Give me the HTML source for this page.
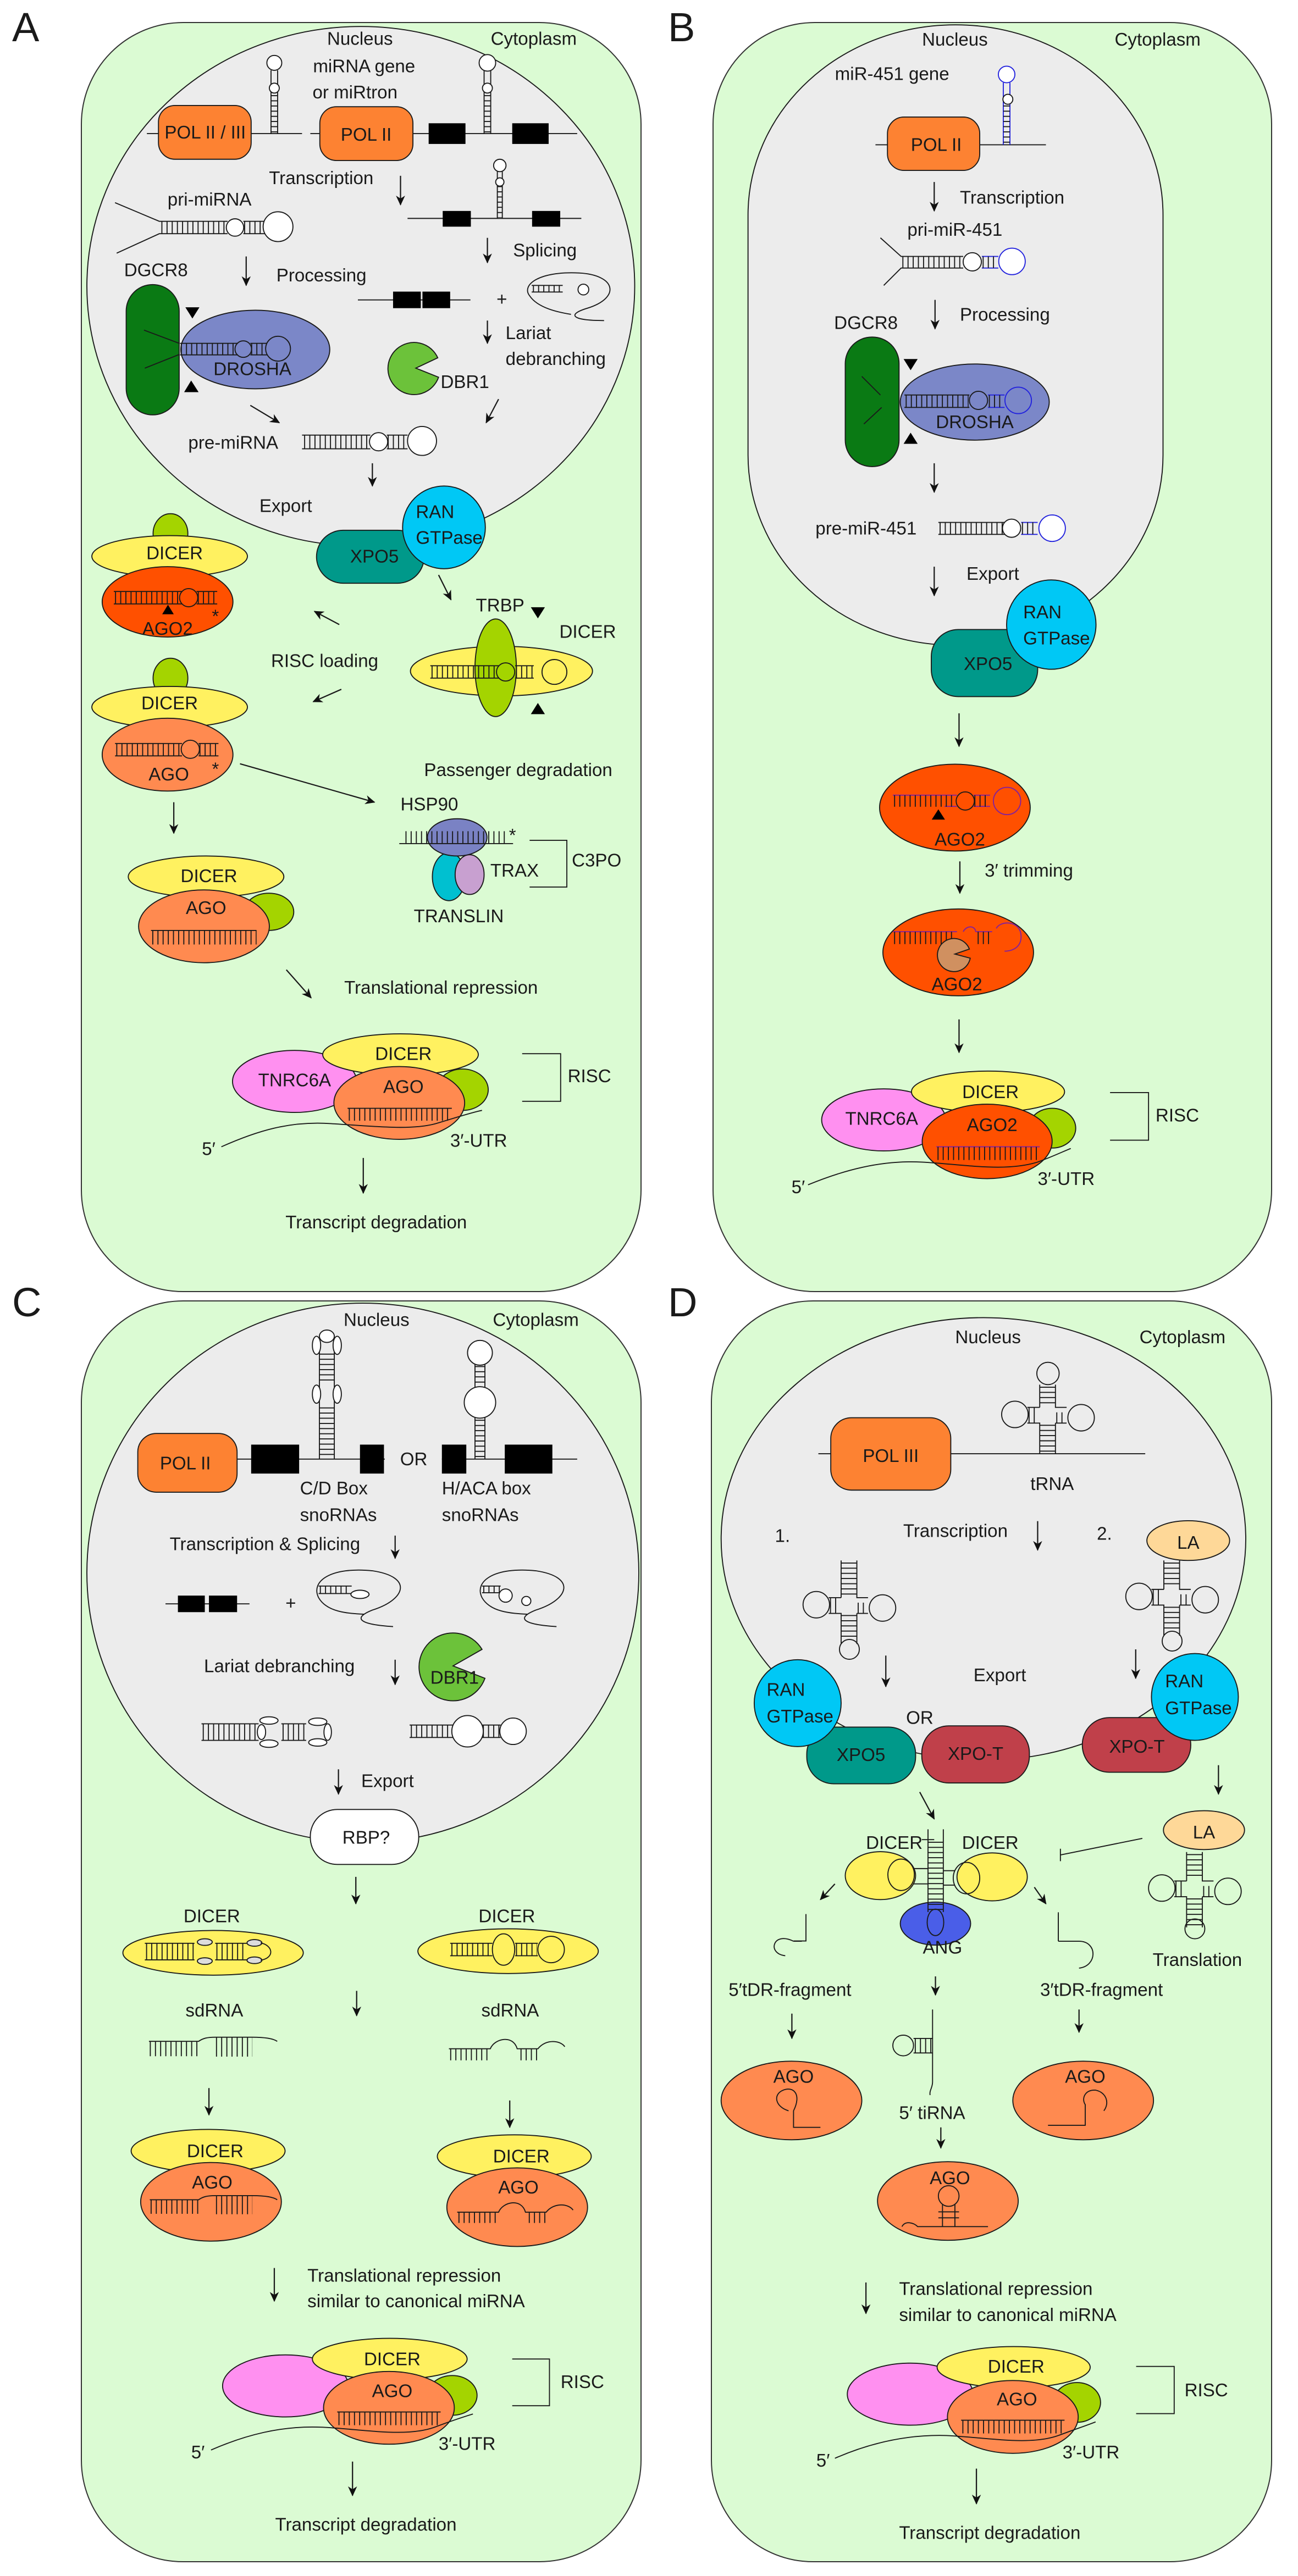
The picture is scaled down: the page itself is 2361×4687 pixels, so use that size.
<!DOCTYPE html>
<html><head><meta charset="utf-8">
<style>
html,body{margin:0;padding:0;background:#fff;}
svg{display:block;}
text{font-family:"Liberation Sans",sans-serif;fill:#1a1a1a;font-size:44px;}
.o{stroke:#1a1a1a;stroke-width:2.5;}
.l{stroke:#1a1a1a;stroke-width:2.5;fill:none;}
.a{stroke:#1a1a1a;stroke-width:3;fill:none;marker-end:url(#ah);}
.r{stroke:#1a1a1a;stroke-dasharray:2.5 10;fill:none;}
.c{fill:none;stroke:#1a1a1a;stroke-width:2.5;}
.cw{fill:#fff;stroke:#1a1a1a;stroke-width:2.5;}
.m{text-anchor:middle;}
.big{font-size:74px;}
</style></head><body>
<svg width="2361" height="4687" viewBox="0 0 2361 4687" xmlns="http://www.w3.org/2000/svg">
<defs>
<marker id="ah" markerWidth="24" markerHeight="22" refX="22" refY="11" orient="auto" markerUnits="userSpaceOnUse"><path d="M0,0 L24,11 L0,22 L7,11z" fill="#111"/></marker>
</defs>
<rect width="2361" height="4687" fill="#fff"/>
<rect x="148" y="41" width="1018" height="2309" rx="185" fill="#dbfbd3" stroke="#333" stroke-width="2"/>
<rect x="1297" y="41" width="1016" height="2309" rx="185" fill="#dbfbd3" stroke="#333" stroke-width="2"/>
<rect x="148" y="2367" width="1018" height="2294" rx="185" fill="#dbfbd3" stroke="#333" stroke-width="2"/>
<rect x="1294" y="2367" width="1019" height="2294" rx="185" fill="#dbfbd3" stroke="#333" stroke-width="2"/>
<text x="22" y="75" class="big">A</text>
<text x="1215" y="75" class="big">B</text>
<text x="22" y="2395" class="big">C</text>
<text x="1215" y="2395" class="big">D</text>

<g transform="translate(0,0) scale(0.7526)">
<ellipse cx="872" cy="692" rx="662" ry="628" fill="#ececec" class="o"/>
<text x="870" y="108" class="m">Nucleus</text>
<text x="1290" y="108" class="m">Cytoplasm</text>
<text x="880" y="175" class="m">miRNA gene</text>
<text x="858" y="238" class="m">or miRtron</text>
<line x1="355" y1="323" x2="730" y2="323" class="l"/>
<rect x="383" y="255" width="224" height="130" rx="40" fill="#fd8232" class="o"/>
<text x="496" y="335" class="m">POL II / III</text>
<path d="M655 323V170M671 323V170" class="l"/><line x1="663" y1="230" x2="663" y2="320" class="r" stroke-width="16"/>
<circle cx="663" cy="152" r="18" class="cw"/><circle cx="663" cy="213" r="12" class="cw"/>
<line x1="750" y1="323" x2="1395" y2="323" class="l"/>
<rect x="773" y="258" width="225" height="130" rx="40" fill="#fd8232" class="o"/>
<text x="885" y="340" class="m">POL II</text>
<rect x="1036" y="298" width="89" height="50" fill="#000"/><rect x="1238" y="298" width="88" height="50" fill="#000"/>
<path d="M1170 323V170M1186 323V170" class="l"/><line x1="1178" y1="230" x2="1178" y2="320" class="r" stroke-width="16"/>
<circle cx="1178" cy="152" r="20" class="cw"/><circle cx="1178" cy="213" r="12" class="cw"/>
<text x="650" y="445">Transcription</text>
<line x1="968" y1="425" x2="968" y2="495" class="a"/>
<line x1="985" y1="528" x2="1405" y2="528" class="l"/>
<rect x="1070" y="510" width="68" height="38" fill="#000"/><rect x="1286" y="510" width="68" height="38" fill="#000"/>
<path d="M1202 528V415M1214 528V415" class="l"/><line x1="1208" y1="450" x2="1208" y2="526" class="r" stroke-width="12"/>
<circle cx="1208" cy="400" r="15" class="cw"/><circle cx="1208" cy="440" r="10" class="cw"/>
<text x="405" y="497">pri-miRNA</text>
<path d="M278 490L385 535H550M282 612L385 565H550M588 535H640M588 565H640" class="l"/>
<line x1="390" y1="550" x2="548" y2="550" class="r" stroke-width="30"/><line x1="590" y1="550" x2="638" y2="550" class="r" stroke-width="30"/>
<circle cx="568" cy="550" r="21" class="cw"/><circle cx="672" cy="548" r="36" class="cw"/>
<line x1="595" y1="620" x2="595" y2="690" class="a"/>
<text x="668" y="680">Processing</text>
<line x1="1178" y1="575" x2="1178" y2="635" class="a"/>
<text x="1240" y="620">Splicing</text>
<line x1="865" y1="725" x2="1137" y2="725" class="l"/>
<rect x="950" y="705" width="67" height="40" fill="#000"/><rect x="1021" y="705" width="67" height="40" fill="#000"/>
<text x="1200" y="738">+</text>
<path d="M1460 775C1380 775 1370 760 1420 745C1500 720 1490 665 1400 660C1300 655 1260 690 1280 715C1300 745 1350 755 1380 760" class="l"/>
<path d="M1285 690H1360M1285 706H1360" class="l"/><line x1="1288" y1="698" x2="1358" y2="698" class="r" stroke-width="14"/><circle cx="1410" cy="700" r="13" class="cw"/>
<line x1="1178" y1="775" x2="1178" y2="830" class="a"/>
<text x="1222" y="820">Lariat</text>
<text x="1222" y="882">debranching</text>
<path d="M1058 865A63 63 0 1 0 1060 912L1005 890Z" fill="#6cc23a" class="o"/>
<text x="1065" y="938">DBR1</text>
<text x="300" y="668">DGCR8</text>
<rect x="305" y="688" width="128" height="315" rx="64" fill="#0a7a14" class="o"/>
<path d="M348 798L433 830M350 890L433 857" class="l"/>
<ellipse cx="617" cy="845" rx="180" ry="95" fill="#7b87c8" class="o"/>
<path d="M435 830H575M435 858H575M605 830H645M605 858H645" class="l"/>
<line x1="437" y1="844" x2="573" y2="844" class="r" stroke-width="28"/><line x1="607" y1="844" x2="643" y2="844" class="r" stroke-width="28"/>
<circle cx="588" cy="844" r="20" class="c"/><circle cx="672" cy="843" r="30" class="c"/>
<text x="610" y="907" class="m">DROSHA</text>
<path d="M448 743H482L465 770Z" fill="#000"/><path d="M445 948H480L462 920Z" fill="#000"/>
<line x1="605" y1="980" x2="675" y2="1022" class="a"/>
<line x1="1205" y1="965" x2="1175" y2="1022" class="a"/>
<text x="455" y="1085">pre-miRNA</text>
<path d="M730 1052H895M730 1085H895M935 1052H985M935 1085H985" class="l"/>
<line x1="735" y1="1068" x2="893" y2="1068" class="r" stroke-width="33"/><line x1="937" y1="1068" x2="983" y2="1068" class="r" stroke-width="33"/>
<circle cx="915" cy="1068" r="22" class="cw"/><circle cx="1020" cy="1066" r="35" class="cw"/>
<line x1="900" y1="1120" x2="900" y2="1175" class="a"/>
<text x="627" y="1238">Export</text>
<rect x="765" y="1282" width="260" height="128" rx="64" fill="#00998a" class="o"/>
<text x="905" y="1360" class="m">XPO5</text>
<circle cx="1073" cy="1275" r="100" fill="#00c8f5" class="o"/>
<text x="1005" y="1252">RAN</text><text x="1005" y="1315">GTPase</text>
<ellipse cx="412" cy="1290" rx="42" ry="48" fill="#a4d400" class="o"/>
<ellipse cx="410" cy="1345" rx="188" ry="50" fill="#fff160" class="o"/>
<text x="422" y="1352" class="m">DICER</text>
<ellipse cx="405" cy="1455" rx="158" ry="85" fill="#ff5000" class="o"/>
<path d="M275 1430H440M275 1460H440M475 1430H525M475 1460H525" class="l"/>
<line x1="278" y1="1445" x2="438" y2="1445" class="r" stroke-width="30"/><line x1="478" y1="1445" x2="523" y2="1445" class="r" stroke-width="30"/>
<circle cx="456" cy="1445" r="22" class="c"/>
<path d="M392 1485H420L406 1462Z" fill="#000"/>
<text x="405" y="1535" class="m">AGO2</text><text x="512" y="1505">*</text>
<line x1="1060" y1="1390" x2="1090" y2="1450" class="a"/>
<text x="1150" y="1478">TRBP</text>
<path d="M1283 1468H1317L1300 1495Z" fill="#000"/>
<text x="1352" y="1542">DICER</text>
<line x1="820" y1="1510" x2="760" y2="1478" class="a"/>
</g>

<g transform="translate(0,1200) scale(0.7526)">
<text x="655" y="18">RISC loading</text>
<line x1="825" y1="72" x2="757" y2="102" class="a"/>
<ellipse cx="1212" cy="28" rx="220" ry="60" fill="#fff160" class="o"/>
<ellipse cx="1198" cy="20" rx="50" ry="118" fill="#a4d400" class="o"/>
<path d="M1040 15H1205M1040 45H1205M1245 15H1290M1245 45H1290" class="l"/>
<line x1="1043" y1="30" x2="1203" y2="30" class="r" stroke-width="30"/><line x1="1247" y1="30" x2="1288" y2="30" class="r" stroke-width="30"/>
<circle cx="1222" cy="30" r="22" class="c"/><circle cx="1340" cy="30" r="30" class="c"/>
<path d="M1283 132H1317L1300 105Z" fill="#000"/>
<ellipse cx="412" cy="45" rx="42" ry="48" fill="#a4d400" class="o"/>
<ellipse cx="410" cy="115" rx="188" ry="50" fill="#fff160" class="o"/>
<text x="410" y="120" class="m">DICER</text>
<ellipse cx="405" cy="230" rx="158" ry="88" fill="#ff8a50" class="o"/>
<path d="M278 203H440M278 233H440M480 203H528M480 233H528" class="l"/>
<line x1="281" y1="218" x2="438" y2="218" class="r" stroke-width="30"/><line x1="482" y1="218" x2="526" y2="218" class="r" stroke-width="30"/>
<circle cx="460" cy="217" r="22" class="c"/>
<text x="408" y="292" class="m">AGO</text><text x="512" y="280">*</text>
<line x1="580" y1="252" x2="905" y2="345" class="a"/>
<text x="1025" y="282">Passenger degradation</text>
<line x1="420" y1="345" x2="420" y2="420" class="a"/>
<text x="968" y="365">HSP90</text>
<ellipse cx="1085" cy="525" rx="40" ry="58" fill="#00c0d0" class="o"/>
<ellipse cx="1135" cy="520" rx="35" ry="48" fill="#c8a0d0" class="o"/>
<ellipse cx="1105" cy="430" rx="72" ry="45" fill="#7a82c4" class="o"/>
<line x1="965" y1="445" x2="1240" y2="445" class="l"/>
<line x1="980" y1="430" x2="1222" y2="430" class="r" stroke-width="30" stroke-dasharray="2.5 22"/>
<text x="1230" y="440">*</text>
<text x="1185" y="525">TRAX</text>
<path d="M1280 437H1370V550H1280" class="l"/>
<text x="1382" y="500">C3PO</text>
<text x="1000" y="635">TRANSLIN</text>
<ellipse cx="650" cy="610" rx="60" ry="45" fill="#a4d400" class="o"/>
<ellipse cx="498" cy="525" rx="188" ry="50" fill="#fff160" class="o"/>
<ellipse cx="493" cy="645" rx="158" ry="88" fill="#ff8a50" class="o"/>
<text x="505" y="538" class="m">DICER</text><text x="498" y="615" class="m">AGO</text>
<line x1="365" y1="655" x2="620" y2="655" class="l"/><line x1="368" y1="672" x2="620" y2="672" class="r" stroke-width="34" stroke-dasharray="2.5 21"/>
<line x1="692" y1="750" x2="752" y2="818" class="a"/>
<text x="832" y="808">Translational repression</text>
<ellipse cx="712" cy="1020" rx="150" ry="75" fill="#ff90f0" class="o"/>
<ellipse cx="968" cy="955" rx="188" ry="50" fill="#fff160" class="o"/>
<ellipse cx="1118" cy="1040" rx="62" ry="50" fill="#a4d400" class="o"/>
<ellipse cx="965" cy="1072" rx="158" ry="88" fill="#ff8a50" class="o"/>
<text x="975" y="968" class="m">DICER</text><text x="712" y="1032" class="m">TNRC6A</text><text x="975" y="1048" class="m">AGO</text>
<line x1="840" y1="1085" x2="1092" y2="1085" class="l"/><line x1="843" y1="1100" x2="1092" y2="1100" class="r" stroke-width="30" stroke-dasharray="2.5 20"/>
<path d="M535 1178C620 1140 700 1115 800 1122C900 1128 1000 1140 1060 1120C1110 1105 1140 1095 1165 1090" class="l"/>
<text x="488" y="1198">5′</text><text x="1088" y="1178">3′-UTR</text>
<path d="M1262 953H1355V1068H1262" class="l"/><text x="1372" y="1022">RISC</text>
<line x1="878" y1="1205" x2="878" y2="1290" class="a"/>
<text x="690" y="1375">Transcript degradation</text>
</g>

<g transform="translate(1180,0) scale(0.7526)">
<rect x="240" y="60" width="1003" height="1500" rx="501" ry="460" fill="#ececec" class="o"/>
<text x="740" y="110" class="m">Nucleus</text><text x="1230" y="110" class="m">Cytoplasm</text>
<text x="450" y="193">miR-451 gene</text>
<line x1="548" y1="350" x2="960" y2="350" class="l"/>
<rect x="577" y="283" width="223" height="129" rx="40" fill="#fd8232" class="o"/>
<text x="695" y="365" class="m">POL II</text>
<path d="M857 350V200M873 350V200" stroke="#2222dd" stroke-width="2.5" fill="none"/><line x1="865" y1="255" x2="865" y2="348" class="r" stroke-width="16"/>
<circle cx="865" cy="180" r="20" fill="#fff" stroke="#2222dd" stroke-width="2.5"/><circle cx="868" cy="240" r="12" class="cw"/>
<line x1="690" y1="440" x2="690" y2="510" class="a"/>
<text x="752" y="492">Transcription</text>
<text x="625" y="570">pri-miR-451</text>
<path d="M560 575L610 620H760M568 690L610 648H760" class="l"/>
<path d="M805 620H845M805 648H845" stroke="#2222dd" stroke-width="2.5"/>
<line x1="613" y1="634" x2="758" y2="634" class="r" stroke-width="28"/><line x1="807" y1="634" x2="843" y2="634" class="r" stroke-width="28"/>
<circle cx="782" cy="633" r="22" class="cw"/><circle cx="878" cy="632" r="32" fill="#fff" stroke="#2222dd" stroke-width="2.5"/>
<line x1="692" y1="725" x2="692" y2="795" class="a"/>
<text x="752" y="775">Processing</text>
<text x="448" y="795">DGCR8</text>
<rect x="475" y="815" width="130" height="313" rx="64" fill="#0a7a14" class="o"/>
<path d="M515 910L560 955M520 1025L563 985" class="l"/>
<ellipse cx="788" cy="972" rx="180" ry="92" fill="#7b87c8" class="o"/>
<path d="M618 955H775M618 985H775" class="l"/><path d="M820 955H860M820 985H860" stroke="#2222dd" stroke-width="2.5"/>
<line x1="621" y1="970" x2="773" y2="970" class="r" stroke-width="30"/><line x1="822" y1="970" x2="858" y2="970" class="r" stroke-width="30"/>
<circle cx="797" cy="968" r="22" class="c"/><circle cx="893" cy="968" r="32" fill="none" stroke="#2222dd" stroke-width="2.5"/>
<text x="788" y="1035" class="m">DROSHA</text>
<path d="M616 868H650L633 895Z" fill="#000"/><path d="M616 1073H650L633 1046Z" fill="#000"/>
<line x1="690" y1="1120" x2="690" y2="1190" class="a"/>
<text x="403" y="1292">pre-miR-451</text>
<path d="M700 1263H860M700 1292H860" class="l"/><path d="M900 1263H940M900 1292H940" stroke="#2222dd" stroke-width="2.5"/>
<line x1="703" y1="1277" x2="858" y2="1277" class="r" stroke-width="29"/><line x1="902" y1="1277" x2="938" y2="1277" class="r" stroke-width="29"/>
<circle cx="877" cy="1277" r="22" class="cw"/><circle cx="975" cy="1277" r="32" fill="#fff" stroke="#2222dd" stroke-width="2.5"/>
<line x1="690" y1="1370" x2="690" y2="1440" class="a"/>
<text x="768" y="1402">Export</text>
<rect x="683" y="1522" width="257" height="162" rx="65" fill="#00998a" class="o"/>
<text x="820" y="1620" class="m">XPO5</text>
<circle cx="973" cy="1510" r="108" fill="#00c8f5" class="o"/>
<text x="905" y="1495">RAN</text><text x="905" y="1558">GTPase</text>
</g>

<g transform="translate(1180,1200) scale(0.7526)">
<line x1="750" y1="130" x2="750" y2="210" class="a"/>
<ellipse cx="740" cy="358" rx="182" ry="105" fill="#ff5000" class="o"/>
<path d="M590 328H745M785 328H825M785 355H825M715 355H745" stroke="#8020a0" stroke-width="2.5" fill="none"/>
<line x1="593" y1="342" x2="743" y2="342" class="r" stroke-width="28"/><line x1="787" y1="342" x2="823" y2="342" class="r" stroke-width="28"/>
<circle cx="765" cy="342" r="22" class="c"/><circle cx="866" cy="342" r="33" fill="none" stroke="#8020a0" stroke-width="2.5"/>
<path d="M684 387H716L700 362Z" fill="#000"/>
<text x="752" y="450" class="m">AGO2</text>
<line x1="752" y1="488" x2="752" y2="565" class="a"/>
<text x="812" y="525">3′ trimming</text>
<ellipse cx="748" cy="708" rx="182" ry="105" fill="#ff5000" class="o"/>
<path d="M590 658H745M790 658H830M760 658C770 640 790 645 790 658M840 650C850 630 900 630 900 670C900 695 880 705 860 705" stroke="#8020a0" stroke-width="2.5" fill="none"/>
<line x1="593" y1="673" x2="740" y2="673" class="r" stroke-width="30"/><line x1="795" y1="673" x2="828" y2="673" class="r" stroke-width="30"/>
<path d="M775 700A40 40 0 1 0 777 722L740 712Z" fill="#d09060" class="o"/>
<text x="745" y="800" class="m">AGO2</text>
<line x1="750" y1="870" x2="750" y2="950" class="a"/>
<ellipse cx="568" cy="1113" rx="150" ry="75" fill="#ff90f0" class="o"/>
<ellipse cx="820" cy="1045" rx="185" ry="50" fill="#fff160" class="o"/>
<ellipse cx="975" cy="1133" rx="57" ry="48" fill="#a4d400" class="o"/>
<ellipse cx="818" cy="1165" rx="157" ry="90" fill="#ff5000" class="o"/>
<text x="826" y="1060" class="m">DICER</text><text x="563" y="1125" class="m">TNRC6A</text><text x="830" y="1140" class="m">AGO2</text>
<line x1="695" y1="1178" x2="945" y2="1178" stroke="#8020a0" stroke-width="2.5"/><line x1="698" y1="1194" x2="945" y2="1194" class="r" stroke-width="32" stroke-dasharray="2.5 20"/>
<path d="M385 1270C470 1235 560 1210 660 1215C760 1220 860 1240 940 1215C980 1200 1000 1190 1020 1182" class="l"/>
<text x="345" y="1290">5′</text><text x="940" y="1270">3′-UTR</text>
<path d="M1115 1047H1208V1162H1115" class="l"/><text x="1225" y="1117">RISC</text>
</g>

<g transform="translate(0,2350) scale(0.7526)">
<ellipse cx="877" cy="680" rx="667" ry="652" fill="#ececec" class="o"/>
<text x="910" y="83" class="m">Nucleus</text><text x="1295" y="83" class="m">Cytoplasm</text>
<line x1="573" y1="405" x2="930" y2="405" class="l"/>
<rect x="333" y="343" width="240" height="142" rx="45" fill="#fd8232" class="o"/>
<text x="448" y="430" class="m">POL II</text>
<rect x="607" y="370" width="116" height="70" fill="#000"/><rect x="870" y="370" width="58" height="70" fill="#000"/>
<path d="M772 405V115M808 405V115" class="l"/><line x1="790" y1="280" x2="790" y2="400" class="r" stroke-width="36" stroke-dasharray="2.5 16"/><line x1="790" y1="150" x2="790" y2="225" class="r" stroke-width="36" stroke-dasharray="2.5 16"/>
<ellipse cx="790" cy="108" rx="18" ry="15" class="cw"/>
<ellipse cx="765" cy="130" rx="10" ry="22" class="cw"/><ellipse cx="815" cy="130" rx="10" ry="22" class="cw"/>
<ellipse cx="765" cy="248" rx="10" ry="22" class="cw"/><ellipse cx="815" cy="248" rx="10" ry="22" class="cw"/>
<text x="1000" y="420" class="m">OR</text>
<line x1="1068" y1="405" x2="1395" y2="405" class="l"/>
<rect x="1068" y="370" width="59" height="70" fill="#000"/><rect x="1220" y="370" width="115" height="70" fill="#000"/>
<path d="M1148 405V300M1172 405V300M1148 235V175M1172 235V175" class="l"/>
<line x1="1160" y1="310" x2="1160" y2="400" class="r" stroke-width="24"/><line x1="1160" y1="180" x2="1160" y2="232" class="r" stroke-width="24"/>
<circle cx="1160" cy="268" r="38" class="cw"/><circle cx="1160" cy="148" r="30" class="cw"/>
<text x="725" y="490">C/D Box</text><text x="725" y="555">snoRNAs</text>
<text x="1068" y="490">H/ACA box</text><text x="1068" y="555">snoRNAs</text>
<text x="410" y="625">Transcription &amp; Splicing</text>
<line x1="955" y1="590" x2="955" y2="645" class="a"/>
<line x1="400" y1="755" x2="603" y2="755" class="l"/>
<rect x="430" y="735" width="65" height="40" fill="#000"/><rect x="505" y="735" width="68" height="40" fill="#000"/>
<text x="690" y="768">+</text>
<path d="M950 810C870 805 850 790 900 770C980 745 1000 690 900 675C800 665 750 700 770 740C790 775 840 778 880 780" class="l"/>
<path d="M770 712H850M770 730H850" class="l"/><line x1="773" y1="721" x2="848" y2="721" class="r" stroke-width="18"/><ellipse cx="870" cy="732" rx="22" ry="10" class="cw"/>
<path d="M1345 810C1265 805 1245 790 1295 770C1375 745 1395 690 1295 675C1195 665 1145 700 1165 740C1185 775 1235 778 1275 780" class="l"/>
<path d="M1165 712H1210M1165 728H1210" class="l"/><line x1="1168" y1="720" x2="1208" y2="720" class="r" stroke-width="16"/><circle cx="1222" cy="735" r="16" class="cw"/><circle cx="1272" cy="748" r="11" class="cw"/>
<text x="493" y="920">Lariat debranching</text>
<line x1="955" y1="890" x2="955" y2="950" class="a"/>
<path d="M1165 865A82 82 0 1 0 1172 935L1095 905Z" fill="#6cc23a" class="o"/>
<text x="1040" y="948">DBR1</text>
<path d="M487 1045H625M487 1085H625M680 1045H740M680 1085H740" class="l"/>
<line x1="490" y1="1065" x2="622" y2="1065" class="r" stroke-width="40"/><line x1="683" y1="1065" x2="738" y2="1065" class="r" stroke-width="40"/>
<ellipse cx="650" cy="1037" rx="22" ry="9" class="cw"/><ellipse cx="650" cy="1093" rx="22" ry="9" class="cw"/>
<ellipse cx="632" cy="1065" rx="10" ry="18" class="cw"/>
<ellipse cx="768" cy="1040" rx="22" ry="9" class="cw"/><ellipse cx="768" cy="1090" rx="22" ry="9" class="cw"/><ellipse cx="792" cy="1065" rx="9" ry="20" class="cw"/>
<path d="M990 1048H1095M990 1078H1095M1165 1048H1210M1165 1078H1210" class="l"/>
<line x1="993" y1="1063" x2="1093" y2="1063" class="r" stroke-width="30"/><line x1="1167" y1="1063" x2="1208" y2="1063" class="r" stroke-width="30"/>
<circle cx="1130" cy="1063" r="38" class="cw"/><circle cx="1240" cy="1063" r="32" class="cw"/>
<line x1="818" y1="1155" x2="818" y2="1215" class="a"/>
<text x="873" y="1198">Export</text>
<rect x="750" y="1252" width="262" height="133" rx="65" fill="#fff" class="o"/>
<text x="885" y="1335" class="m">RBP?</text>
<line x1="860" y1="1415" x2="860" y2="1480" class="a"/>
<text x="512" y="1525" class="m">DICER</text><text x="1225" y="1525" class="m">DICER</text>
</g>

<g transform="translate(0,3517) scale(0.7526)">
<ellipse cx="515" cy="48" rx="218" ry="54" fill="#fff160" class="o"/>
<path d="M350 25H470M350 65H470M520 25H600M520 65H600" class="l"/>
<line x1="353" y1="45" x2="468" y2="45" class="r" stroke-width="40"/><line x1="523" y1="45" x2="598" y2="45" class="r" stroke-width="40"/>
<ellipse cx="495" cy="22" rx="18" ry="8" fill="#ddd" class="o"/><ellipse cx="495" cy="68" rx="18" ry="8" fill="#ddd" class="o"/><ellipse cx="615" cy="24" rx="18" ry="8" fill="#ddd" class="o"/><ellipse cx="615" cy="66" rx="18" ry="8" fill="#ddd" class="o"/>
<path d="M630 24C660 30 665 60 630 66" class="l"/>
<ellipse cx="1228" cy="44" rx="218" ry="54" fill="#fff160" class="o"/>
<path d="M1088 25H1190M1088 55H1190M1245 25H1300M1245 55H1300" class="l"/>
<line x1="1091" y1="40" x2="1188" y2="40" class="r" stroke-width="30"/><line x1="1247" y1="40" x2="1298" y2="40" class="r" stroke-width="30"/>
<ellipse cx="1217" cy="40" rx="27" ry="38" fill="#fff160" class="o"/><circle cx="1332" cy="40" r="32" fill="#fff160" class="o"/>
<line x1="862" y1="140" x2="862" y2="200" class="a"/>
<text x="518" y="202" class="m">sdRNA</text><text x="1233" y="202" class="m">sdRNA</text>
<path d="M360 262H480C490 255 500 252 520 252H610C640 252 660 255 670 262" class="l"/>
<line x1="362" y1="280" x2="480" y2="280" class="r" stroke-width="36" stroke-dasharray="2.5 22"/><line x1="522" y1="276" x2="610" y2="276" class="r" stroke-width="46" stroke-dasharray="2.5 22"/>
<path d="M1085 280H1185C1195 255 1240 245 1250 280H1300C1320 255 1355 260 1365 275" class="l"/>
<line x1="1088" y1="294" x2="1183" y2="294" class="r" stroke-width="28" stroke-dasharray="2.5 14"/><line x1="1258" y1="294" x2="1298" y2="294" class="r" stroke-width="28" stroke-dasharray="2.5 14"/>
<line x1="505" y1="375" x2="505" y2="440" class="a"/>
<line x1="1232" y1="405" x2="1232" y2="470" class="a"/>
<ellipse cx="503" cy="527" rx="186" ry="52" fill="#fff160" class="o"/>
<ellipse cx="510" cy="650" rx="170" ry="95" fill="#ff8a50" class="o"/>
<text x="520" y="542" class="m">DICER</text><text x="513" y="618" class="m">AGO</text>
<path d="M362 645H480C490 638 500 635 520 635H610C640 635 660 638 670 645" class="l"/>
<line x1="364" y1="662" x2="480" y2="662" class="r" stroke-width="34" stroke-dasharray="2.5 22"/><line x1="522" y1="658" x2="610" y2="658" class="r" stroke-width="44" stroke-dasharray="2.5 22"/>
<ellipse cx="1243" cy="540" rx="186" ry="52" fill="#fff160" class="o"/>
<ellipse cx="1250" cy="663" rx="170" ry="95" fill="#ff8a50" class="o"/>
<text x="1260" y="555" class="m">DICER</text><text x="1253" y="630" class="m">AGO</text>
<path d="M1105 675H1205C1215 650 1260 640 1270 675H1320C1340 650 1375 655 1385 670" class="l"/>
<line x1="1108" y1="688" x2="1203" y2="688" class="r" stroke-width="26" stroke-dasharray="2.5 14"/><line x1="1278" y1="688" x2="1318" y2="688" class="r" stroke-width="26" stroke-dasharray="2.5 14"/>
<line x1="663" y1="810" x2="663" y2="890" class="a"/>
<text x="743" y="843">Translational repression</text>
<text x="743" y="905">similar to canonical miRNA</text>
<ellipse cx="690" cy="1095" rx="152" ry="75" fill="#ff90f0" class="o"/>
<ellipse cx="942" cy="1030" rx="187" ry="50" fill="#fff160" class="o"/>
<ellipse cx="1093" cy="1118" rx="60" ry="48" fill="#a4d400" class="o"/>
<ellipse cx="940" cy="1148" rx="158" ry="88" fill="#ff8a50" class="o"/>
<text x="948" y="1045" class="m">DICER</text><text x="948" y="1122" class="m">AGO</text>
<line x1="815" y1="1158" x2="1065" y2="1158" class="l"/><line x1="818" y1="1174" x2="1065" y2="1174" class="r" stroke-width="32" stroke-dasharray="2.5 20"/>
<path d="M510 1250C590 1215 680 1190 780 1195C880 1200 980 1220 1050 1195C1090 1180 1120 1170 1143 1163" class="l"/>
<text x="462" y="1270">5′</text><text x="1060" y="1250">3′-UTR</text>
<path d="M1238 1030H1328V1143H1238" class="l"/><text x="1355" y="1100">RISC</text>
<line x1="852" y1="1278" x2="852" y2="1360" class="a"/>
<text x="665" y="1445">Transcript degradation</text>
</g>

<g transform="translate(1180,2350) scale(0.7526)">
<ellipse cx="809" cy="598" rx="634" ry="535" fill="#ececec" class="o"/>
<text x="820" y="125" class="m">Nucleus</text><text x="1290" y="125" class="m">Cytoplasm</text>
<line x1="410" y1="392" x2="1200" y2="392" class="l"/>
<rect x="440" y="305" width="290" height="175" rx="50" fill="#fd8232" class="o"/>
<text x="585" y="412" class="m">POL III</text>
<path d="M945 392V318H915M945 280H915M945 280V225M983 225V280H1010M983 318H1010M983 318V392" class="l"/>
<line x1="964" y1="230" x2="964" y2="276" class="r" stroke-width="38" stroke-dasharray="2.5 11"/><line x1="964" y1="322" x2="964" y2="390" class="r" stroke-width="38" stroke-dasharray="2.5 11"/>
<line x1="918" y1="299" x2="943" y2="299" class="r" stroke-width="38" stroke-dasharray="2.5 8"/><line x1="985" y1="305" x2="1010" y2="305" class="r" stroke-width="26" stroke-dasharray="2.5 8"/>
<circle cx="965" cy="198" r="27" class="c"/><circle cx="885" cy="297" r="32" class="c"/><circle cx="1045" cy="305" r="32" class="c"/>
<text x="975" y="480" class="m">tRNA</text>
<text x="305" y="605">1.</text>
<text x="615" y="593">Transcription</text>
<line x1="940" y1="555" x2="940" y2="625" class="a"/>
<text x="1083" y="600">2.</text>
<ellipse cx="1304" cy="602" rx="100" ry="48" fill="#fed898" class="o"/>
<text x="1304" y="622" class="m">LA</text>
<g transform="translate(-480,460)">
<path d="M945 392V318H915M945 280H915M945 280V190M983 190V280H1010M983 318H1010M983 318V392" class="l"/>
<line x1="964" y1="195" x2="964" y2="276" class="r" stroke-width="38" stroke-dasharray="2.5 11"/><line x1="964" y1="322" x2="964" y2="380" class="r" stroke-width="38" stroke-dasharray="2.5 11"/>
<line x1="918" y1="299" x2="943" y2="299" class="r" stroke-width="38" stroke-dasharray="2.5 8"/><line x1="985" y1="305" x2="1010" y2="305" class="r" stroke-width="26" stroke-dasharray="2.5 8"/>
<circle cx="965" cy="405" r="24" class="c"/><circle cx="885" cy="297" r="32" class="c"/><circle cx="1045" cy="305" r="32" class="c"/>
</g>
<g transform="translate(300,440)">
<path d="M945 392V318H915M945 280H915M945 280V210M983 210V280H1010M983 318H1010M983 318V392" class="l"/>
<line x1="964" y1="215" x2="964" y2="276" class="r" stroke-width="38" stroke-dasharray="2.5 11"/><line x1="964" y1="322" x2="964" y2="380" class="r" stroke-width="38" stroke-dasharray="2.5 11"/>
<line x1="918" y1="299" x2="943" y2="299" class="r" stroke-width="38" stroke-dasharray="2.5 8"/><line x1="985" y1="305" x2="1010" y2="305" class="r" stroke-width="26" stroke-dasharray="2.5 8"/>
<circle cx="965" cy="405" r="24" class="c"/><circle cx="885" cy="297" r="32" class="c"/><circle cx="1045" cy="305" r="32" class="c"/>
</g>
<line x1="573" y1="880" x2="573" y2="955" class="a"/>
<line x1="1177" y1="865" x2="1177" y2="935" class="a"/>
<text x="785" y="942">Export</text>
<text x="655" y="1045" class="m">OR</text>
<rect x="382" y="1053" width="263" height="137" rx="65" fill="#00998a" class="o"/>
<circle cx="360" cy="995" r="105" fill="#00c8f5" class="o"/>
<rect x="660" y="1050" width="260" height="138" rx="65" fill="#c0404a" class="o"/>
<rect x="1048" y="1030" width="262" height="132" rx="65" fill="#c0404a" class="o"/>
<circle cx="1320" cy="980" r="105" fill="#00c8f5" class="o"/>
<text x="285" y="977">RAN</text><text x="285" y="1042">GTPase</text>
<text x="1248" y="957">RAN</text><text x="1248" y="1022">GTPase</text>
<text x="513" y="1135" class="m">XPO5</text><text x="790" y="1132" class="m">XPO-T</text><text x="1180" y="1115" class="m">XPO-T</text>
<line x1="655" y1="1210" x2="690" y2="1275" class="a"/>
<line x1="1377" y1="1145" x2="1377" y2="1215" class="a"/>
<g transform="translate(355,1145)">
<path d="M945 392V318H915M945 280H915M945 280V210M983 210V280H1010M983 318H1010M983 318V392" class="l"/>
<line x1="964" y1="215" x2="964" y2="276" class="r" stroke-width="38" stroke-dasharray="2.5 11"/><line x1="964" y1="322" x2="964" y2="390" class="r" stroke-width="38" stroke-dasharray="2.5 11"/>
<line x1="918" y1="299" x2="943" y2="299" class="r" stroke-width="38" stroke-dasharray="2.5 8"/><line x1="985" y1="305" x2="1010" y2="305" class="r" stroke-width="26" stroke-dasharray="2.5 8"/>
<circle cx="885" cy="297" r="32" class="c"/><circle cx="1045" cy="305" r="32" class="c"/>
</g>
<ellipse cx="1342" cy="1302" rx="98" ry="47" fill="#fed898" class="o"/>
<text x="1342" y="1322" class="m">LA</text>
<path d="M1193 1322L995 1362M995 1347V1377" class="l" stroke-width="3"/>
<text x="525" y="1347">DICER</text><text x="757" y="1347">DICER</text>
<ellipse cx="560" cy="1412" rx="85" ry="58" fill="#fff160" class="o"/>
<ellipse cx="830" cy="1415" rx="85" ry="58" fill="#fff160" class="o"/>
<ellipse cx="693" cy="1528" rx="85" ry="52" fill="#4a5ee8" class="o"/>
<path d="M675 1300V1500M712 1330V1500M712 1330V1300M660 1325H690" class="l"/>
<line x1="693" y1="1330" x2="693" y2="1495" class="r" stroke-width="37" stroke-dasharray="2.5 18"/>
<ellipse cx="693" cy="1525" rx="20" ry="32" class="c"/>
<ellipse cx="610" cy="1410" rx="32" ry="38" class="c"/><ellipse cx="768" cy="1418" rx="32" ry="38" class="c"/>
<path d="M640 1395H675M640 1432H675M712 1400H740M712 1435H740" class="l"/>
<line x1="450" y1="1432" x2="415" y2="1470" class="a"/>
<line x1="932" y1="1440" x2="960" y2="1480" class="a"/>
<path d="M380 1505V1570H350" class="l"/>
<path d="M990 1505V1570" class="l"/>
</g>

<g transform="translate(1180,3517) scale(0.7526)">
<path d="M350 20C300 -5 285 50 330 55" class="l"/><path d="M350 20H370" class="l"/>
<path d="M990 20H1040C1085 20 1085 80 1040 85" class="l"/>
<path d="M990 -50V20" class="l"/>
<text x="710" y="50" class="m">ANG</text>
<circle cx="1320" cy="-10" r="24" class="c"/>
<text x="1218" y="80">Translation</text>
<text x="193" y="152">5′tDR-fragment</text>
<text x="946" y="152">3′tDR-fragment</text>
<line x1="346" y1="195" x2="346" y2="255" class="a"/>
<line x1="693" y1="105" x2="693" y2="150" class="a"/>
<line x1="1040" y1="185" x2="1040" y2="240" class="a"/>
<path d="M686 185V360C686 375 678 380 680 392" class="l"/>
<path d="M686 255H640M686 290H640" class="l"/><line x1="643" y1="272" x2="684" y2="272" class="r" stroke-width="35" stroke-dasharray="2.5 12"/>
<circle cx="615" cy="272" r="25" class="c"/>
<text x="605" y="450">5′ tiRNA</text>
<line x1="706" y1="470" x2="706" y2="520" class="a"/>
<ellipse cx="345" cy="405" rx="170" ry="95" fill="#ff8a50" class="o"/>
<text x="350" y="362" class="m">AGO</text>
<path d="M338 430C305 420 300 390 325 380C350 370 370 390 350 430V470H415" class="l"/>
<ellipse cx="1050" cy="405" rx="170" ry="95" fill="#ff8a50" class="o"/>
<text x="1055" y="362" class="m">AGO</text>
<path d="M1100 430C1115 410 1105 385 1080 380C1055 378 1045 400 1055 415V465H965" class="l"/>
<ellipse cx="723" cy="648" rx="170" ry="95" fill="#ff8a50" class="o"/>
<text x="728" y="607" class="m">AGO</text>
<path d="M612 710C620 695 640 700 650 710H820M710 710V655M740 710V655" class="l"/>
<line x1="713" y1="685" x2="738" y2="685" stroke="#1a1a1a" stroke-width="50" stroke-dasharray="2.5 12" transform="rotate(90 725 685)"/>
<circle cx="725" cy="636" r="25" class="c"/>
<line x1="525" y1="845" x2="525" y2="920" class="a"/>
<text x="605" y="875">Translational repression</text>
<text x="605" y="938">similar to canonical miRNA</text>
<ellipse cx="632" cy="1115" rx="152" ry="75" fill="#ff90f0" class="o"/>
<ellipse cx="882" cy="1050" rx="185" ry="50" fill="#fff160" class="o"/>
<ellipse cx="1035" cy="1135" rx="57" ry="48" fill="#a4d400" class="o"/>
<ellipse cx="880" cy="1170" rx="158" ry="88" fill="#ff8a50" class="o"/>
<text x="888" y="1063" class="m">DICER</text><text x="890" y="1142" class="m">AGO</text>
<line x1="755" y1="1178" x2="1005" y2="1178" class="l"/><line x1="758" y1="1194" x2="1005" y2="1194" class="r" stroke-width="32" stroke-dasharray="2.5 20"/>
<path d="M450 1270C530 1235 620 1212 720 1215C820 1220 920 1240 990 1215C1030 1200 1060 1190 1080 1182" class="l"/>
<text x="405" y="1290">5′</text><text x="1000" y="1270">3′-UTR</text>
<path d="M1178 1048H1270V1162H1178" class="l"/><text x="1295" y="1120">RISC</text>
<line x1="792" y1="1295" x2="792" y2="1380" class="a"/>
<text x="605" y="1465">Transcript degradation</text>
</g>
</svg>
</body></html>
